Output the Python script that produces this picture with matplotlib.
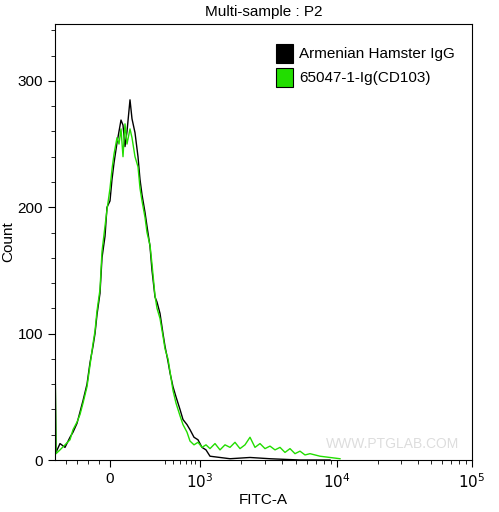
import matplotlib
matplotlib.use("Agg")
import matplotlib.pyplot as plt
from matplotlib.patches import Rectangle
import numpy as np

plt.rcParams['font.family'] = ['Liberation Sans', 'DejaVu Sans']

# x is in display channel units (0 = "0" position, 90 = 10^3, 227 = 10^4, 362 = 10^5)
x_black = [-55,-54,-50,-45,-40,-37,-33,-30,-27,-23,-20,-17,-15,-13,-10,-8,-5,-3,0,2,4,7,9,11,13,15,17,20,22,25,
           28,30,32,35,37,40,42,45,47,50,53,55,58,60,63,66,70,73,77,80,84,88,92,96,100,110,120,140,160,190,220]
y_black = [88,6,13,10,18,22,29,38,47,60,77,90,100,115,132,160,177,200,205,222,235,251,260,269,265,248,260,285,270,259,
           240,222,210,196,185,169,150,129,125,116,100,90,78,69,58,50,40,32,28,24,18,16,10,8,3,2,1,2,1,0,0]
x_green = [-55,-54,-50,-45,-40,-37,-33,-30,-27,-23,-20,-17,-15,-13,-10,-8,-5,-3,0,2,4,7,9,11,13,15,17,20,22,25,
           28,30,32,35,37,40,42,45,47,50,53,55,58,60,63,66,70,73,77,80,84,88,92,96,100,105,110,115,120,125,130,
           135,140,145,150,155,160,165,170,175,180,185,190,195,200,210,220,230]
y_green = [86,5,8,12,16,24,30,36,45,58,75,92,102,118,135,165,185,198,215,230,242,255,250,262,240,266,250,262,255,240,
           232,215,205,192,180,170,155,130,120,112,98,88,80,70,55,45,35,28,22,15,12,14,10,12,9,13,8,12,10,14,9,
           12,18,10,13,9,11,8,10,6,9,5,7,4,5,3,2,1]
legend_labels = ["Armenian Hamster IgG", "65047-1-Ig(CD103)"]
major_pos = [0, 90, 227, 362]
major_lab = ["0", "$10^3$", "$10^4$", "$10^5$"]

fig = plt.figure(figsize=(4.99, 5.12), dpi=100)
ax = fig.add_axes([55/499, 52/512, 417/499, 436/512])
ax.plot(x_black, y_black, color="black", lw=1)
ax.plot(x_green, y_green, color="#22dd00", lw=1)
ax.set_xlim(-55, 362)
ax.set_ylim(0, 345)
ax.set_xticks(major_pos)
ax.set_xticklabels(major_lab)
minor = [-44,-33,-22,-11,55,63,70,76,81,85]
minor += [90+137*np.log10(k) for k in range(2,10)] + [227+135*np.log10(k) for k in range(2,10)]
ax.set_xticks(minor, minor=True)
ax.set_yticks([0,100,200,300])
ax.set_yticks(range(0,345,20), minor=True)
ax.tick_params(direction="out", labelsize=11)
ax.tick_params(which="major", length=5)
ax.tick_params(which="minor", length=3)
ax.set_xlabel("FITC-A", fontsize=11, labelpad=2)
ax.set_ylabel("Count", fontsize=11)
ax.yaxis.set_label_coords(-0.095, 0.5)
ax.set_title("Multi-sample : P2", fontsize=11, pad=6)
for i, (c, lab) in enumerate(zip(["black", "#22dd00"], legend_labels)):
    yy = 0.91 - i*0.055
    ax.add_patch(Rectangle((0.53, yy), 0.04, 0.045, transform=ax.transAxes, facecolor=c, edgecolor="black", lw=0.8))
    ax.text(0.585, yy+0.022, lab, transform=ax.transAxes, va="center", fontsize=11)
ax.text(0.97, 0.02, "WWW.PTGLAB.COM", transform=ax.transAxes, ha="right", va="bottom", color="#dddddd", fontsize=10)
fig.savefig("out.png")
